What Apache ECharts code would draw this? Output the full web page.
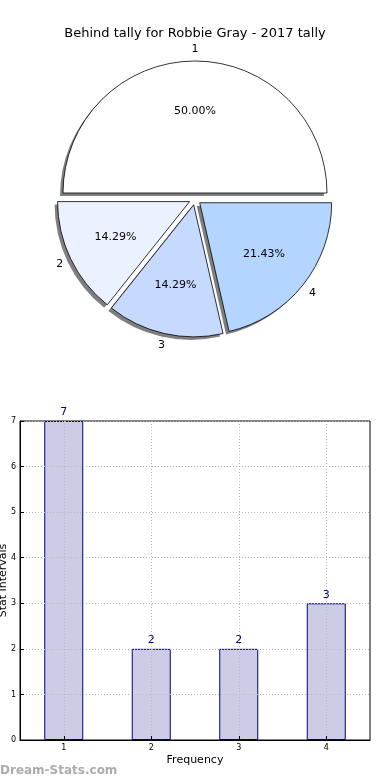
<!DOCTYPE html>
<html>
<head>
<meta charset="utf-8">
<script src="https://cdn.jsdelivr.net/npm/echarts@6/dist/echarts.min.js"></script>
<style>html,body{margin:0;padding:0;background:#fff;}#c{width:390px;height:780px;}</style>
</head>
<body>
<div id="c"></div>
<script>
const titleText = 'Behind tally for Robbie Gray - 2017 tally';
const pieCategories = ['1', '2', '3', '4'];
const pieValues = [7, 2, 2, 3];
const pieColors = ['#ffffff', '#eaf1ff', '#c6d9ff', '#b3d5ff'];
const barCategories = ['1', '2', '3', '4'];
const barValues = [7, 2, 2, 3];
const yMin = 0, yMax = 7, yStep = 1;
const xAxisName = 'Frequency';
const yAxisName = 'Stat Intervals';
const watermark = 'Dream-Stats.com';

const FONT = 'DejaVu Sans';
const R = 132;
const CX = 195, CY = 199;
const EXPLODE = 6;
const pieTotal = pieValues.reduce((a, b) => a + b, 0);

function pieData(style) {
  return pieCategories.map((c, i) => ({
    name: c,
    value: pieValues[i],
    selected: true,
    itemStyle: style === 'fill' ? { color: pieColors[i] }
      : style === 'shadow' ? { color: '#7f7f7f', borderWidth: 0 }
      : { color: 'transparent', borderWidth: 0 }
  }));
}

const pieCommon = {
  type: 'pie', startAngle: 0, clockwise: false,
  selectedMode: 'multiple', selectedOffset: EXPLODE,
  avoidLabelOverlap: false, emphasis: { disabled: true },
  labelLine: { show: false }
};

const chart = echarts.init(document.getElementById('c'), null, { renderer: 'canvas' });
chart.setOption({
  animation: false,
  backgroundColor: '#ffffff',
  title: {
    text: titleText, left: 'center', top: 22,
    textStyle: { fontFamily: FONT, fontSize: 13, fontWeight: 'normal', color: '#000' }
  },
  graphic: [{
    type: 'text', left: 0, top: 765,
    style: { text: watermark, fontFamily: FONT, fontSize: 12, fontWeight: 'bold', fill: '#acacac' }
  }],
  grid: {
    left: 20, right: 20, top: 421, bottom: 40,
    outerBoundsMode: 'none', containLabel: false,
    show: true, borderColor: '#000', borderWidth: 1, backgroundColor: 'transparent'
  },
  xAxis: {
    type: 'category', data: barCategories, z: 3,
    name: xAxisName, nameLocation: 'middle', nameGap: 15, nameMoveOverlap: false,
    nameTextStyle: { fontFamily: FONT, fontSize: 11, color: '#000' },
    axisLine: { lineStyle: { color: '#000' } },
    axisTick: { show: true, inside: true, length: 4, alignWithLabel: true, lineStyle: { color: '#000' } },
    axisLabel: { fontFamily: FONT, fontSize: 8, color: '#000', margin: 4 },
    splitLine: { show: true, alignWithLabel: true, lineStyle: { color: '#b8b8b8', type: [1, 2], width: 1 } }
  },
  yAxis: {
    type: 'value', min: yMin, max: yMax, interval: yStep, z: 3,
    name: yAxisName, nameLocation: 'middle', nameGap: 11, nameMoveOverlap: false,
    nameTextStyle: { fontFamily: FONT, fontSize: 11, color: '#000' },
    axisLine: { show: true, lineStyle: { color: '#000' } },
    axisTick: { show: true, inside: true, length: 4, lineStyle: { color: '#000' } },
    axisLabel: { fontFamily: FONT, fontSize: 8, color: '#000', margin: 4 },
    splitLine: { show: true, lineStyle: { color: '#b8b8b8', type: [1, 2], width: 1 } }
  },
  series: [
    Object.assign({}, pieCommon, {
      name: 'shadow', radius: [0, R], center: [CX - 3, CY + 3], silent: true, z: 1,
      data: pieData('shadow'), label: { show: false }
    }),
    Object.assign({}, pieCommon, {
      name: 'main', radius: [0, R], center: [CX, CY], z: 2,
      data: pieData('fill'), label: { show: false },
      itemStyle: { borderColor: '#000', borderWidth: 0.8 }
    }),
    Object.assign({}, pieCommon, {
      name: 'pct', radius: [R * 0.5, R * 0.7], center: [CX, CY], silent: true, z: 3,
      data: pieData('none'),
      label: {
        show: true, position: 'inside', fontFamily: FONT, fontSize: 11, color: '#000',
        formatter: p => (p.value / pieTotal * 100).toFixed(2) + '%'
      }
    }),
    Object.assign({}, pieCommon, {
      name: 'names', radius: [R * 1.0, R * 1.14], center: [CX, CY], silent: true, z: 3,
      data: pieData('none'),
      label: { show: true, position: 'inside', fontFamily: FONT, fontSize: 11, color: '#000', formatter: '{b}' }
    }),
    {
      type: 'bar', data: barValues, barWidth: 39,
      itemStyle: { color: '#cccce6', borderColor: '#000080', borderWidth: 1 },
      label: { show: true, position: 'top', distance: 3, fontFamily: FONT, fontSize: 11, color: '#000080' }
    }
  ]
});
</script>
</body>
</html>
